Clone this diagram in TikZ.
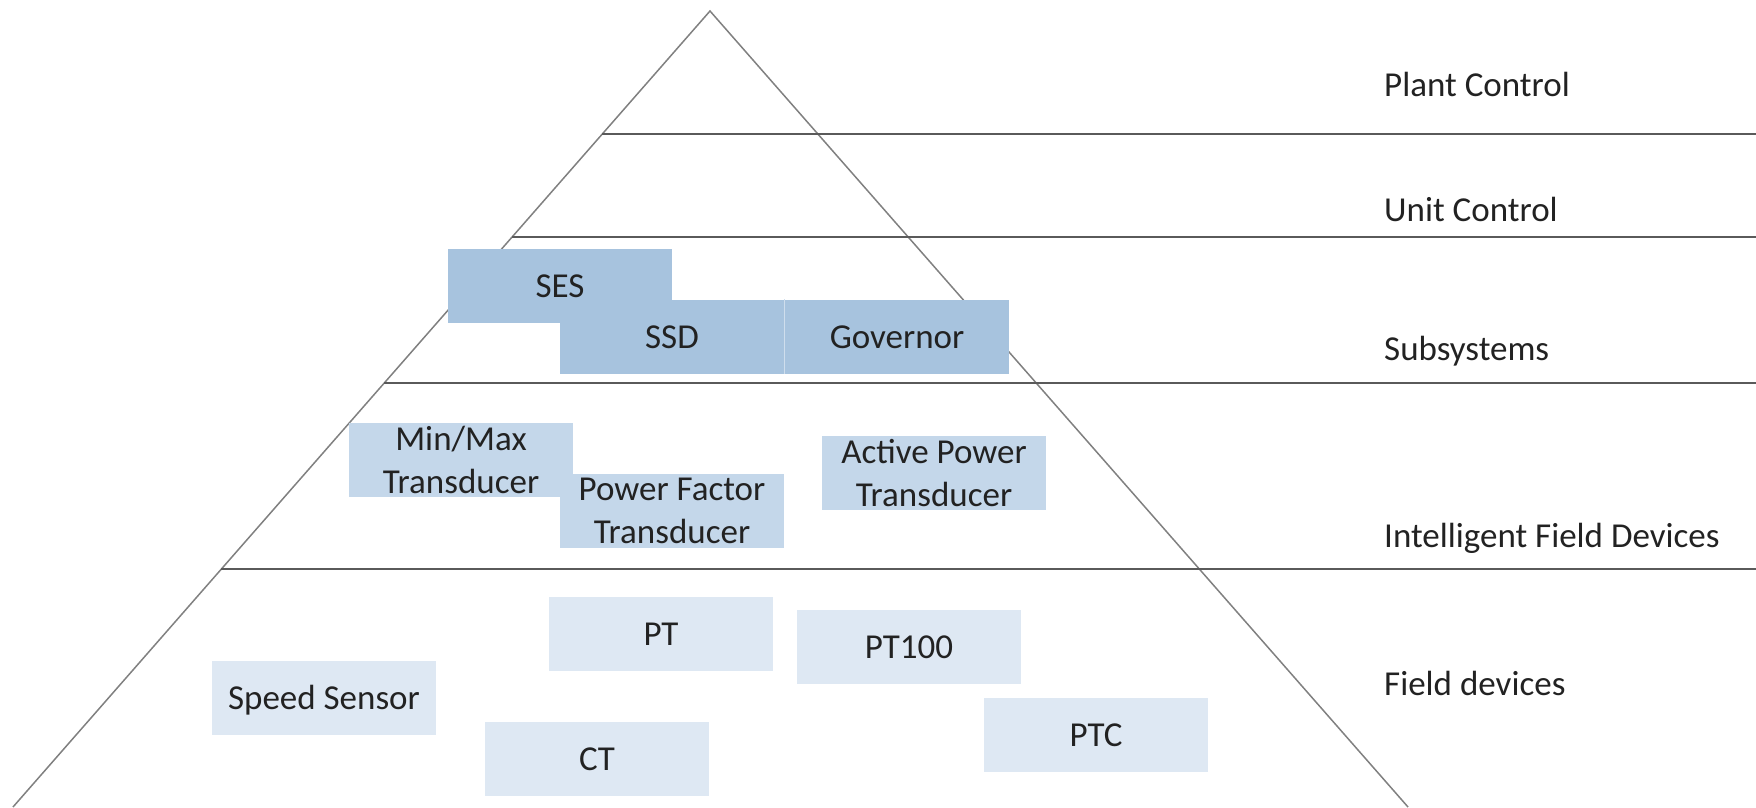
\documentclass[tikz,border=0pt]{standalone}
\usepackage{fontspec}
\setmainfont{Carlito}
\usetikzlibrary{calc}
\definecolor{lineg}{HTML}{808080}
\definecolor{hline}{HTML}{5A5A5A}
\definecolor{subc}{HTML}{A7C3DE}
\definecolor{ifdc}{HTML}{C4D7EA}
\definecolor{fdc}{HTML}{DEE8F3}
\definecolor{txt}{HTML}{222222}
\begin{document}
\begin{tikzpicture}[x=1pt,y=-1pt,
  dev/.style={minimum width=224pt, minimum height=74pt, inner sep=0pt, align=center, text=txt, font=\fontsize{35}{43}\selectfont},
  oneline/.style={text height=23pt, text depth=0pt},
  sub/.style={dev, oneline, fill=subc},
  ifd/.style={dev, fill=ifdc},
  fd/.style={dev, oneline, fill=fdc},
  lvl/.style={anchor=base west, text=txt, font=\fontsize{35}{42}\selectfont, inner sep=0pt},
  tri/.style={draw=lineg, line width=1.5pt},
  sep/.style={draw=hline, line width=2pt}]
\useasboundingbox (0,0) rectangle (1756,807);
\coordinate (apex) at (710,11);
\coordinate (bl) at (13,807);
\coordinate (br) at (1408,807);
\coordinate (re) at (1756,0);
\draw[tri] (bl) -- (apex) -- (br);
\foreach \yy/\nn in {134/a,237/b,383/c,569/d}{
  \coordinate (l\nn) at ($(apex)!{(\yy-11)/796}!(bl)$);
  \draw[sep] (l\nn) -- (l\nn -| re);
}
% Subsystems
\node[sub] (ssd) at (672,336.5) {SSD};
\node[sub] (gov) at (897,336.5) {Governor};
\node[sub] (ses) at (560,286) {SES};
\draw[white!45!subc, line width=1pt] (gov.north west) -- (gov.south west);
% Intelligent field devices
\node[ifd] (mm) at (461,460) {Min/Max\\Transducer};
\node[ifd] (pf) at (672,511) {Power Factor\\Transducer};
\node[ifd] (ap) at (934,473) {Active Power\\Transducer};
% Field devices
\node[fd] (pt) at (661,633.5) {PT};
\node[fd] (pt100) at (909,646.5) {PT100};
\node[fd] (speed) at (324,698) {Speed Sensor};
\node[fd] (ct) at (597,758.5) {CT};
\node[fd] (ptc) at (1096,735) {PTC};
% Level labels
\node[lvl] (l1) at (1384,96) {Plant Control};
\node[lvl] (l2) at (1384,221) {Unit Control};
\node[lvl] (l3) at (1384,360) {Subsystems};
\node[lvl] (l4) at (1384,547) {Intelligent Field Devices};
\node[lvl] (l5) at (1384,695) {Field devices};
\end{tikzpicture}
\end{document}
